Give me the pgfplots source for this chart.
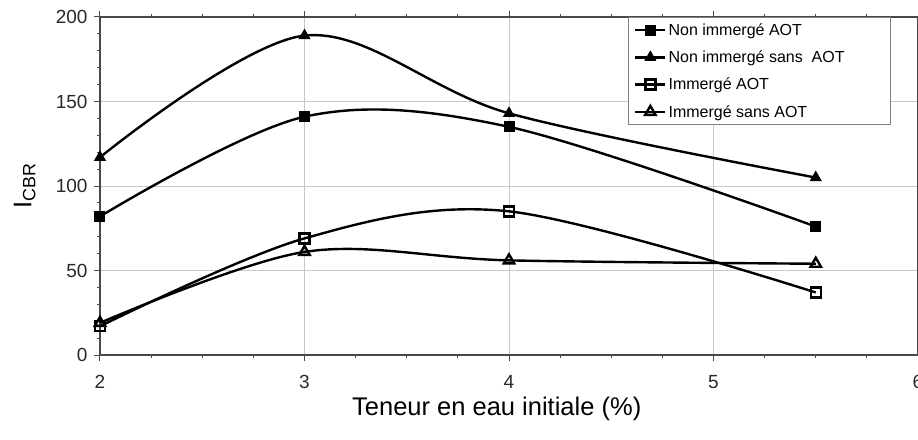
\documentclass[border=0pt]{standalone}
\usepackage{fontspec}
\setmainfont{Liberation Sans}
\usepackage{pgfplots}
\pgfplotsset{compat=1.18}

\definecolor{gridgray}{RGB}{200,200,200}
\definecolor{axgray}{RGB}{70,75,70}
\definecolor{txt}{RGB}{40,40,40}

\begin{document}
\begin{tikzpicture}
\begin{axis}[
    scale only axis,
    width=818pt, height=338pt,
    xmin=2, xmax=6, ymin=0, ymax=200,
    xtick={2,3,4,5,6}, ytick={0,50,100,150,200},
    minor x tick num=3, minor y tick num=4,
    grid=major,
    major grid style={gridgray, line width=0.8pt},
    axis line style={axgray, line width=1.2pt},
    tick style={axgray, line width=1pt},
    major tick length=6pt, minor tick length=3pt,
    tick align=outside,
    /pgf/number format/assume math mode=true,
    ticklabel style={font=\fontsize{19}{21}\selectfont, text=txt},
    xticklabel style={yshift=-11pt},
    yticklabel style={xshift=-3pt},
    xlabel={Teneur en eau initiale (\%)},
    ylabel={I\textsubscript{CBR}},
    label style={font=\fontsize{25.5}{27}\selectfont, text=black},
    xlabel style={at={(axis description cs:0.485,-0.16)}, anchor=center},
    ylabel style={at={(axis description cs:-0.092,0.5)}, anchor=center},
    legend cell align=left,
    legend style={at={(rel axis cs:0.967,1)}, anchor=north east,
        draw=gray, line width=0.8pt, fill=white,
        font=\fontsize{16}{18}\selectfont,
        row sep=10pt, inner xsep=6pt, inner ysep=4pt},
    legend image code/.code={
        \draw[mark repeat=2, mark phase=2, #1]
            plot coordinates {(0pt,0pt) (15pt,0pt) (30pt,0pt)};},
    every axis plot/.append style={black, line width=2.4pt, smooth, tension=0.55,
        mark options={solid, line width=1pt}},
]
\addplot[mark=square*, mark size=5pt] coordinates {
    (2,82) (3,141) (4,135) (5.5,76)};
\addlegendentry{Non immergé AOT}
\addplot[mark=triangle*, mark size=6pt] coordinates {
    (2,117) (3,189) (4,143) (5.5,105)};
\addlegendentry{Non immergé sans\ \ AOT\hspace*{38pt}}
\addplot[mark=square, mark size=5pt, mark options={fill=white}] coordinates {
    (2,17) (3,69) (4,85) (5.5,37)};
\addlegendentry{Immergé AOT}
\addplot[mark=triangle, mark size=6pt, mark options={fill=white}] coordinates {
    (2,19) (3,61) (4,56) (5.5,54)};
\addlegendentry{Immergé sans AOT}
\end{axis}
\pgfresetboundingbox
\path ([xshift=-100pt,yshift=-84pt]current axis.south west)
    rectangle ([yshift=17pt]current axis.north east);
\end{tikzpicture}
\end{document}
